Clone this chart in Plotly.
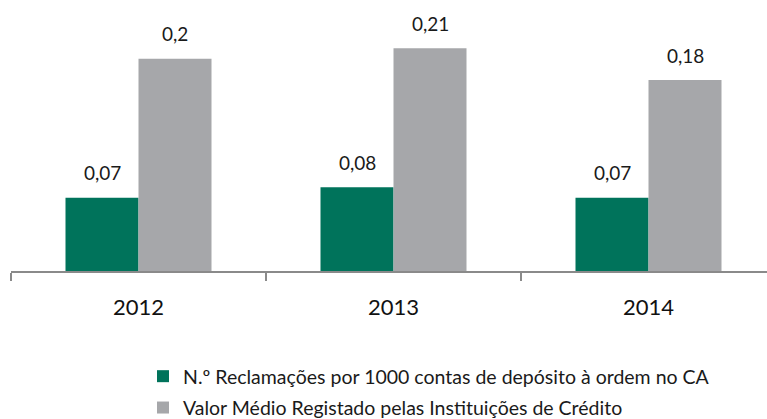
import plotly.graph_objects as go

categories = ["2012", "2013", "2014"]
series_names = ["N.º Reclamações por 1000 contas de depósito à ordem no CA",
                "Valor Médio Registado pelas Instituições de Crédito"]
reclamacoes = [0.069, 0.079, 0.069]
valor_medio = [0.20, 0.21, 0.18]
colors = ["#00735B", "#A6A7AA"]

FONT = "Lato"

def fmt(v):
    s = f"{v:.2f}".rstrip("0").rstrip(".")
    return s.replace(".", ",")

fig = go.Figure()
for i, (name, vals) in enumerate(zip(series_names, [reclamacoes, valor_medio])):
    fig.add_trace(go.Bar(x=categories, y=vals, name=name, marker_color=colors[i],
                         marker_line_width=0, legendgroup=f"g{i}"))

bw = 73 / 255
annotations = []
for i, vals in enumerate([reclamacoes, valor_medio]):
    off = (-0.5 + i) * bw
    for j, v in enumerate(vals):
        annotations.append(dict(x=j + off, y=v, xref="x", yref="y", text=fmt(v),
                                showarrow=False, yanchor="middle", yshift=25,
                                font=dict(family=FONT, size=19, color="#1A1A1A")))

fig.update_layout(
    width=767, height=419,
    margin=dict(l=11, r=0, t=10, b=148, autoexpand=False),
    paper_bgcolor="white", plot_bgcolor="white",
    barmode="group", bargap=1 - 2 * bw, bargroupgap=0,
    annotations=annotations,
    xaxis=dict(type="category", range=[-0.5, -0.5 + 756 / 255], showgrid=False,
               showline=True, linecolor="#8A8A8A", linewidth=1.5,
               ticks="outside", tickson="boundaries", ticklen=8, tickcolor="#8A8A8A",
               tickwidth=1.5, ticklabelstandoff=16, automargin=False,
               tickfont=dict(family=FONT, size=22, color="#111111")),
    yaxis=dict(range=[0, 261 / 1061], visible=False, showgrid=False),
    legend=dict(xref="container", yref="container",
                x=143 / 767, y=1 - 357 / 419, xanchor="left", yanchor="top",
                orientation="v", tracegroupgap=3,
                font=dict(family=FONT, size=19.5, color="#1A1A1A")),
    showlegend=True,
)

fig.write_html("out.html", config={"displayModeBar": False},
               post_script="document.body.style.margin='0';document.body.style.overflow='hidden';")
